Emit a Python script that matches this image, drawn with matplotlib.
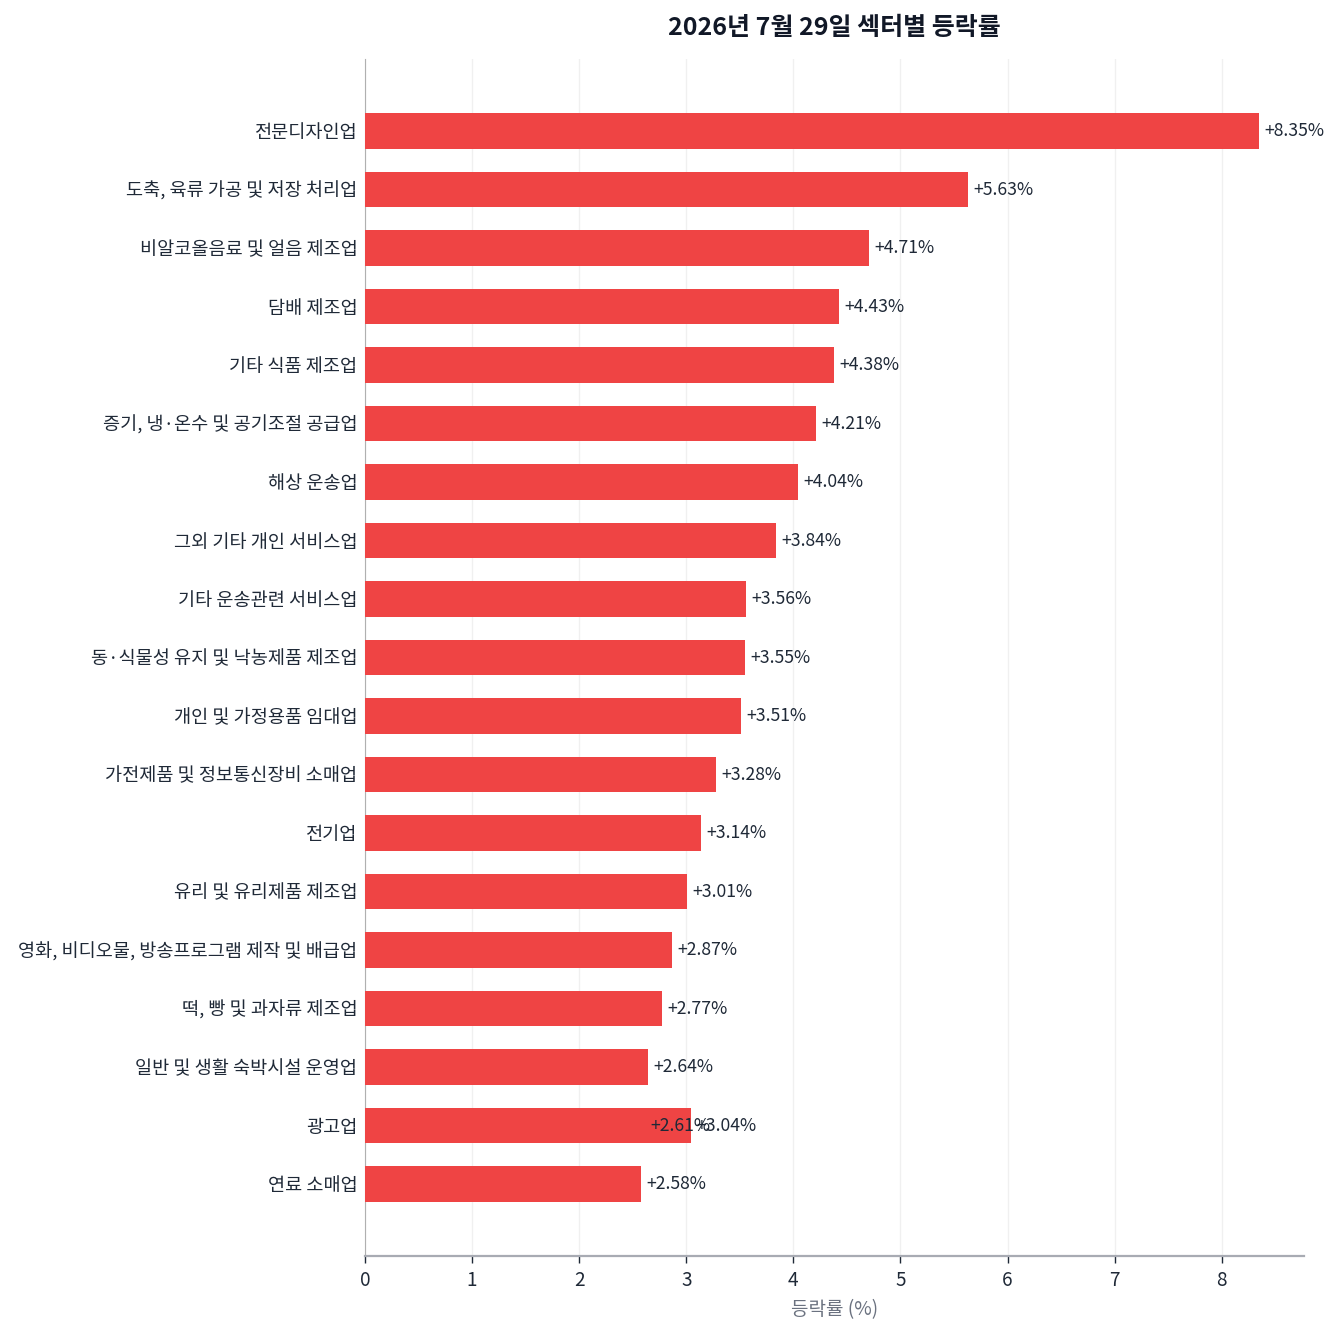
import matplotlib
matplotlib.use('Agg')
import matplotlib.pyplot as plt

plt.rcParams['font.family'] = ['Noto Sans CJK KR', 'DejaVu Sans']

# sectors listed top to bottom, as in the chart
sectors = ['전문디자인업', '도축, 육류 가공 및 저장 처리업', '비알코올음료 및 얼음 제조업',
           '담배 제조업', '기타 식품 제조업', '증기, 냉·온수 및 공기조절 공급업',
           '해상 운송업', '그외 기타 개인 서비스업', '기타 운송관련 서비스업',
           '동·식물성 유지 및 낙농제품 제조업', '개인 및 가정용품 임대업',
           '가전제품 및 정보통신장비 소매업', '전기업', '광고업', '유리 및 유리제품 제조업',
           '영화, 비디오물, 방송프로그램 제작 및 배급업', '떡, 빵 및 과자류 제조업',
           '일반 및 생활 숙박시설 운영업', '광고업', '연료 소매업']
changes = [8.35, 5.63, 4.71, 4.43, 4.38, 4.21, 4.04, 3.84, 3.56, 3.55,
           3.51, 3.28, 3.14, 3.04, 3.01, 2.87, 2.77, 2.64, 2.61, 2.58]

title = '2026년 7월 29일 섹터별 등락률'
xlabel = '등락률 (%)'

bar_color = '#ef4444'
text_color = '#1f2937'

# plot bottom-up so the largest ends on top
names = sectors[::-1]
vals = changes[::-1]

fig, ax = plt.subplots(figsize=(13.4, 13.36), dpi=100)
fig.subplots_adjust(left=0.2724, right=0.9731, top=0.9558, bottom=0.0599)

ax.barh(names, vals, height=0.6, color=bar_color, zorder=3)
for n, v in zip(names, vals):
    ax.text(v + 0.05, n, f'+{v:.2f}%', va='center', ha='left', fontsize=12.7, color=text_color, zorder=4)

ax.set_xlim(0, max(changes) * 1.05)
ax.grid(axis='x', color='#f0f0f0', linewidth=1, zorder=0)
ax.set_axisbelow(True)

for s in ['top', 'right']:
    ax.spines[s].set_visible(False)
ax.spines['left'].set_color('#b0b0b0')
ax.spines['left'].set_linewidth(0.8)
ax.spines['bottom'].set_color('#a8abb3')
ax.spines['bottom'].set_linewidth(1.6)

ax.tick_params(axis='y', length=0, pad=5.5, labelsize=13.4, labelcolor=text_color)
ax.tick_params(axis='x', length=5, width=1, color=text_color, pad=5, labelsize=13.7, labelcolor=text_color)

ax.set_xlabel(xlabel, fontsize=13.7, color='#6b7280', labelpad=6)
ax.set_title(title, fontsize=18, fontweight='bold', color='#111827', pad=17)

plt.savefig('out.png', dpi=100)
